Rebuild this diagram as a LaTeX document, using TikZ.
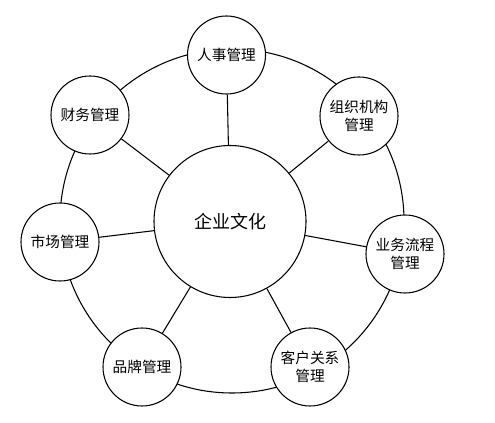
\documentclass[tikz,border=0pt]{standalone}
\usepackage{fontspec}
\setmainfont{Noto Sans CJK SC}
\usetikzlibrary{positioning}

\begin{document}
\begin{tikzpicture}[
        x=0.75pt,y=-0.75pt,
        ring/.style={line width=.8pt},
        spoke/.style={line width=.8pt},
        hub/.style={circle,draw,fill=white,line width=.8pt,minimum size=114pt,
          inner sep=0pt,font=\fontsize{13.5}{16}\selectfont},
        unit/.style={circle,draw,fill=white,line width=.8pt,minimum size=58.5pt,
          inner sep=0pt,align=center,font=\fontsize{11}{13.5}\selectfont}
      ]
        \useasboundingbox (0,0) rectangle (495,423);
        \draw[ring] (232,221) circle (129pt);

        \node[hub] (culture) at (230,221.5) {企业文化};

        \node[unit] (hr) at (226.5,55) {人事管理};
        \node[unit] (org) at (359,116) {组织机构\\管理};
        \node[unit] (process) at (405,254) {业务流程\\管理};
        \node[unit] (client) at (310,367) {客户关系\\管理};
        \node[unit] (brand) at (142,367) {品牌管理};
        \node[unit] (market) at (60,242) {市场管理};
        \node[unit] (finance) at (90,115) {财务管理};

        \foreach \u in {hr,org,process,client,brand,market,finance}
          \draw[spoke] (culture) -- (\u);
      \end{tikzpicture}
\end{document}
